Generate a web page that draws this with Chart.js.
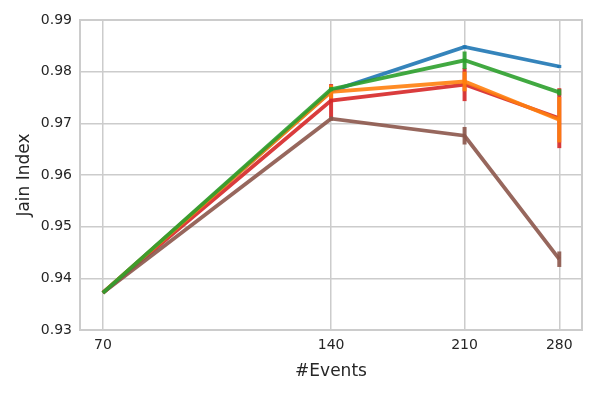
<!DOCTYPE html>
<html>
<head>
<meta charset="utf-8">
<script src="https://cdn.jsdelivr.net/npm/chart.js@4.4.1/dist/chart.umd.min.js"></script>
<style>
  html, body { margin: 0; padding: 0; background: #fff; }
  #wrap { width: 598px; height: 394px; }
</style>
</head>
<body>
<div id="wrap"><canvas id="chart"></canvas></div>
<script>
// x positions (number of events) and tick labels
const events = [70, 140, 210, 280];
const yTicks = [0.93, 0.94, 0.95, 0.96, 0.97, 0.98, 0.99];

// mean Jain index per series
const blueVals = [0.9372, 0.9762, 0.9848, 0.9810];
const greenVals = [0.9372, 0.9766, 0.9822, 0.9760];
const orangeVals = [0.9372, 0.9761, 0.9781, 0.9707];
const redVals = [0.9372, 0.9744, 0.9775, 0.9710];
const brownVals = [0.9372, 0.9709, 0.9676, 0.9437];

// half-width of the error bars
const blueErr = [0, 0.0003, 0.0003, 0.0003];
const greenErr = [0, 0.0004, 0.0017, 0.0006];
const orangeErr = [0, 0.0013, 0.0019, 0.0044];
const redErr = [0, 0.0032, 0.0032, 0.0058];
const brownErr = [0, 0.0004, 0.0017, 0.0015];

// chart.js paints index 0 last, so the top-most line comes first
const series = [
  { vals: greenVals, err: greenErr, color: "rgba(44,160,44,0.9)" },
  { vals: brownVals, err: brownErr, color: "rgba(140,86,75,0.9)" },
  { vals: orangeVals, err: orangeErr, color: "rgba(255,127,14,0.9)" },
  { vals: redVals, err: redErr, color: "rgba(214,39,40,0.9)" },
  { vals: blueVals, err: blueErr, color: "rgba(31,119,180,0.9)" },
];

const datasets = series.map(s => ({
  data: events.map((x, i) => ({ x: x, y: s.vals[i] })),
  err: s.err,
  borderColor: s.color,
  backgroundColor: s.color,
  borderWidth: 3.8,
  pointRadius: 0,
  tension: 0,
}));

// vertical error bars, drawn right after each line
const errorBars = {
  id: "errorBars",
  afterDatasetDraw(chart, args) {
    const ds = chart.data.datasets[args.index];
    const xs = chart.scales.x, ys = chart.scales.y;
    const ctx = chart.ctx;
    ctx.save();
    ctx.strokeStyle = ds.borderColor;
    ctx.lineWidth = 4;
    ds.data.forEach((p, i) => {
      const e = ds.err[i];
      if (!e) return;
      const px = xs.getPixelForValue(p.x);
      ctx.beginPath();
      ctx.moveTo(px, ys.getPixelForValue(p.y - e));
      ctx.lineTo(px, ys.getPixelForValue(p.y + e));
      ctx.stroke();
    });
    ctx.restore();
  }
};

// light frame around the plot area
const frame = {
  id: "frame",
  beforeDatasetsDraw(chart) {
    const a = chart.chartArea, ctx = chart.ctx;
    ctx.save();
    ctx.strokeStyle = "#cccccc";
    ctx.lineWidth = 2;
    ctx.strokeRect(a.left, a.top, a.right - a.left, a.bottom - a.top);
    ctx.restore();
  }
};

const tickFont = { family: "'DejaVu Sans', sans-serif", size: 14 };
const titleFont = { family: "'DejaVu Sans', sans-serif", size: 17 };

new Chart(document.getElementById("chart"), {
  type: "line",
  data: { datasets: datasets },
  options: {
    responsive: true,
    maintainAspectRatio: false,
    animation: false,
    layout: { padding: { top: 20, right: 16, left: 0, bottom: 0 } },
    plugins: { legend: { display: false }, tooltip: { enabled: false } },
    scales: {
      x: {
        type: "logarithmic",
        min: 65.3,
        max: 300,
        afterBuildTicks: scale => { scale.ticks = events.map(v => ({ value: v })); },
        afterFit: scale => { scale.height = 64; },
        ticks: { callback: v => String(v), color: "#262626", font: tickFont, padding: 7, maxRotation: 0 },
        grid: { color: "#cccccc", lineWidth: 1.5, drawTicks: false },
        border: { display: false },
        title: { display: true, text: "#Events", color: "#262626", font: titleFont, padding: { top: 0, bottom: 12 } },
      },
      y: {
        min: 0.93,
        max: 0.99,
        afterBuildTicks: scale => { scale.ticks = yTicks.map(v => ({ value: v })); },
        afterFit: scale => { scale.width = 80; },
        ticks: { callback: v => v.toFixed(2), color: "#262626", font: tickFont, padding: 8 },
        grid: { color: "#cccccc", lineWidth: 1.5, drawTicks: false },
        border: { display: false },
        title: { display: true, text: "Jain Index", color: "#262626", font: titleFont, padding: { top: 14, bottom: 0 } },
      },
    },
  },
  plugins: [frame, errorBars],
});
</script>
</body>
</html>
